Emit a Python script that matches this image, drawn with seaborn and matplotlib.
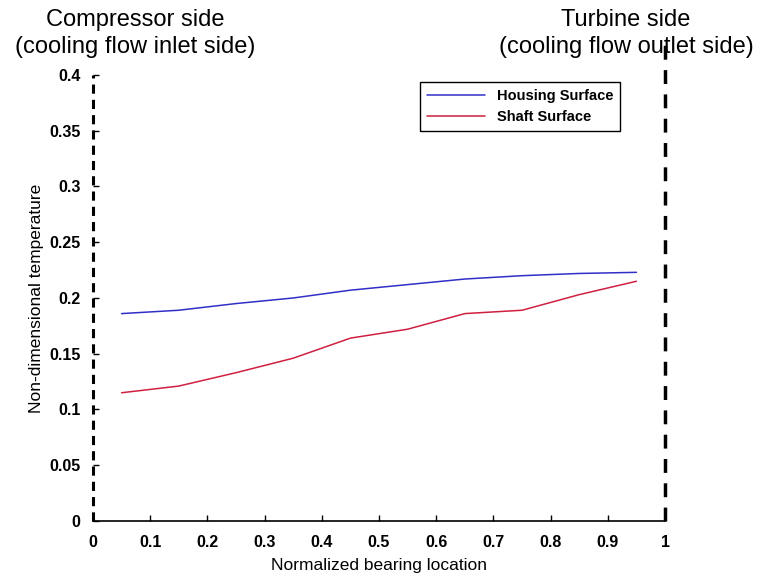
import numpy as np
import pandas as pd
import seaborn as sns
import matplotlib
matplotlib.use("Agg")
import matplotlib.pyplot as plt

# bearing positions and non-dimensional temperatures
location = [0.05, 0.15, 0.25, 0.35, 0.45, 0.55, 0.65, 0.75, 0.85, 0.95]
housing = [0.186, 0.189, 0.195, 0.200, 0.207, 0.212, 0.217, 0.220, 0.222, 0.223]
shaft = [0.115, 0.121, 0.133, 0.146, 0.164, 0.172, 0.186, 0.189, 0.203, 0.215]

yticks = [0, 0.05, 0.1, 0.15, 0.2, 0.25, 0.3, 0.35, 0.4]
ytick_labels = ["0", "0.05", "0.1", "0.15", "0.2", "0.25", "0.3", "0.35", "0.4"]
xticks = [0, 0.1, 0.2, 0.3, 0.4, 0.5, 0.6, 0.7, 0.8, 0.9, 1]
xtick_labels = ["0", "0.1", "0.2", "0.3", "0.4", "0.5", "0.6", "0.7", "0.8", "0.9", "1"]

df = pd.DataFrame({
    "loc": location * 2,
    "temp": housing + shaft,
    "surface": ["Housing Surface"] * len(location) + ["Shaft Surface"] * len(location),
})

sns.set_style("white")
plt.rcParams["font.family"] = ["Liberation Sans", "DejaVu Sans"]
plt.rcParams["text.color"] = "black"
plt.rcParams["axes.labelcolor"] = "black"
plt.rcParams["xtick.color"] = "black"
plt.rcParams["ytick.color"] = "black"

fig = plt.figure(figsize=(7.58, 5.79), dpi=100)
ax = fig.add_axes([0.1227, 0.1002, 0.7547, 0.7703])

sns.lineplot(data=df, x="loc", y="temp", hue="surface",
             palette=["#3030c8", "#d02040"], linewidth=1.1, ax=ax)

ax.set_xlim(0, 1)
ax.set_ylim(0, 0.4)
ax.set_xticks(xticks)
ax.set_xticklabels(xtick_labels, fontsize=11.5, fontweight="bold")
ax.set_yticks(yticks)
ax.set_yticklabels(ytick_labels, fontsize=11.5, fontweight="bold")
ax.tick_params(bottom=True, left=True, direction="in", length=4, width=1,
               color="black", labelcolor="black")
ax.tick_params(axis="x", pad=10)
ax.tick_params(axis="y", pad=9)

for side in ["top", "left", "right"]:
    ax.spines[side].set_visible(False)
ax.spines["bottom"].set_color("black")
ax.spines["bottom"].set_linewidth(1.2)

# dashed side markers
ax.plot([0, 0], [0, 0.4], color="black", linestyle=(0, (3, 2)), linewidth=2.2, clip_on=False)
ax.plot([1, 1], [0, 0.432], color="black", linestyle=(0, (4, 3)), linewidth=2.5, clip_on=False)

ax.set_xlabel("Normalized bearing location", fontsize=12.5, labelpad=6)
ax.set_ylabel("Non-dimensional temperature", fontsize=12.5, labelpad=4)

leg = ax.legend(loc="upper right", bbox_to_anchor=(0.921, 0.984), fancybox=False,
                framealpha=1, edgecolor="black", prop={"size": 10.5, "weight": "bold"},
                handlelength=4.0, borderaxespad=0, borderpad=0.45)
leg.get_frame().set_linewidth(1.0)

fig.text(0.178, 0.985, "Compressor side\n(cooling flow inlet side)", ha="center", va="top",
         fontsize=17, linespacing=1.3)
fig.text(0.826, 0.985, "Turbine side\n(cooling flow outlet side)", ha="center", va="top",
         fontsize=17, linespacing=1.3)

fig.savefig("out.png", dpi=100)
